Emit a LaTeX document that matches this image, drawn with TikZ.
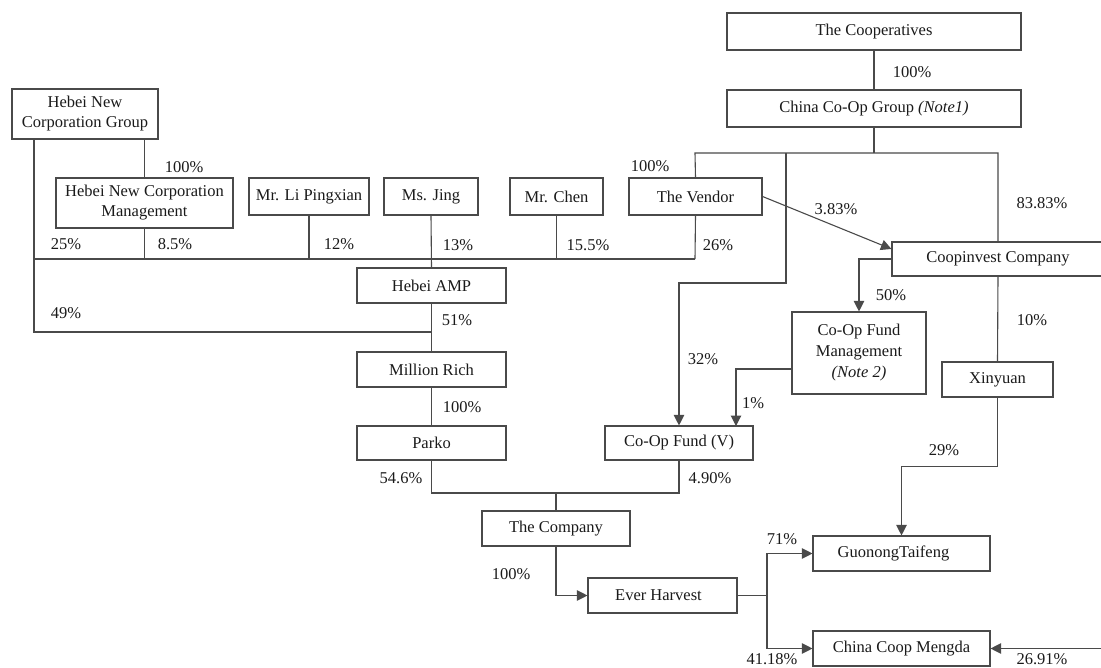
\documentclass[tikz,border=0pt]{standalone}
\usepackage{fontspec}
\setmainfont{Liberation Serif}
\usetikzlibrary{arrows.meta}
\definecolor{linec}{HTML}{4A4A4A}
\definecolor{txtc}{HTML}{1A1A1A}
\begin{document}
\begin{tikzpicture}[x=1pt,y=-1pt,
  box/.style={draw=linec, line width=1.1pt, inner sep=0pt, align=center, font=\fontsize{16.5}{20}\selectfont, text=txtc},
  conn/.style={draw=linec, line width=1.1pt},
  arr/.style={conn, -{Triangle[length=10.5pt,width=10.5pt]}},
  lbl/.style={font=\fontsize{16.5}{20}\selectfont, inner sep=0pt, text=txtc}]
\useasboundingbox (0,0) rectangle (1101,668);
\clip (0,0) rectangle (1101,668);
% boxes
\node[box, minimum width=294pt, minimum height=37pt] (coop) at (874,31.5) {The Cooperatives};
\node[box, minimum width=294pt, minimum height=37pt] (china) at (874,108.5) {China Co-Op Group \textit{(Note1)}};
\node[box, minimum width=146pt, minimum height=50pt] (hgroup) at (85,114) {Hebei New\\Corporation Group};
\node[box, minimum width=177pt, minimum height=50pt] (hmgmt) at (144.5,203) {Hebei New Corporation\\Management};
\node[box, minimum width=120pt, minimum height=37pt] (li) at (309,196.5) {Mr. Li Pingxian};
\node[box, minimum width=94pt, minimum height=37pt] (jing) at (431,196.5) {Ms. Jing};
\node[box, minimum width=93pt, minimum height=37pt] (chen) at (556.5,196.5) {Mr. Chen};
\node[box, minimum width=133pt, minimum height=37pt] (vendor) at (695.5,196.5) {The Vendor};
\node[box, minimum width=212pt, minimum height=34pt] (coopinv) at (998,259) {Coopinvest Company};
\node[box, minimum width=149pt, minimum height=35pt] (amp) at (431.5,285.5) {Hebei AMP};
\node[box, minimum width=149pt, minimum height=35pt] (mrich) at (431.5,369.5) {Million Rich};
\node[box, minimum width=149pt, minimum height=34pt] (parko) at (431.5,443) {Parko};
\node[box, minimum width=148pt, minimum height=34pt] (fund) at (679,443) {Co-Op Fund (V)};
\node[box, minimum width=134pt, minimum height=82pt, font=\fontsize{16.5}{21}\selectfont] (fmgmt) at (859,353) {Co-Op Fund\\Management\\\textit{(Note 2)}};
\node[box, minimum width=111pt, minimum height=35pt] (xin) at (997.5,379.5) {Xinyuan};
\node[box, minimum width=148pt, minimum height=35pt] (company) at (556,528.5) {The Company};
\node[box, minimum width=149pt, minimum height=35pt] (ever) at (662.5,595.5) {\hspace*{-8pt}Ever Harvest};
\node[box, minimum width=177pt, minimum height=35pt] (guon) at (901.5,553.5) {\hspace*{-16pt}GuonongTaifeng};
\node[box, minimum width=177pt, minimum height=35pt] (mengda) at (901.5,648.5) {China Coop Mengda};
% coordinates
\coordinate (cj) at (874,153);
\coordinate (cjL) at (695,153);
\coordinate (cjM) at (786,153);
\coordinate (cjR) at (998,153);
\coordinate (gl) at (34,139);
\coordinate (busL) at (34,259);
\coordinate (busR) at (695,259);
\coordinate (l49) at (431.5,332);
\coordinate (pf) at (556,493);
\coordinate (ej) at (767,595.5);
\coordinate (redge) at (1101,648.5);
\coordinate (f1) at (736,426);
% connectors
\draw[conn] (coop.south) -- (china.north);
\draw[conn] (china.south) -- (cj);
\draw[conn] (vendor.north) -- (cjL) -- (cjR) -- (coopinv.north);
\draw[arr] (cjM) -- ++(0,130) -| (fund.north);
\draw[conn] (hmgmt.north |- hgroup.south) -- (hmgmt.north);
\draw[conn] (gl) |- (l49);
\draw[conn] (busL) -- (busR);
\draw[conn] (gl) -- (busL);
\draw[conn] (hmgmt.south) -- (hmgmt.south |- busL);
\draw[conn] (li.south) -- (li.south |- busL);
\draw[conn] (jing.south) -- (amp.north);
\draw[conn] (chen.south) -- (chen.south |- busL);
\draw[conn] (vendor.south) -- (busR);
\draw[conn] (amp.south) -- (mrich.north);
\draw[conn] (mrich.south) -- (parko.north);
\draw[conn] (parko.south) |- (pf) -| (fund.south);
\draw[conn] (pf) -- (company.north);
\draw[arr] (company.south) |- (ever.west);
\draw[conn] (ever.east) -- (ej);
\draw[arr] (ej) |- (guon.west);
\draw[arr] (ej) |- (mengda.west);
\draw[arr] (redge) -- (mengda.east);
\draw[arr] (vendor.east) -- ([yshift=10pt]coopinv.west);
\draw[arr] (coopinv.west) -| (fmgmt.north);
\draw[arr] ([yshift=-16pt]fmgmt.west) -| (f1);
\draw[conn] (coopinv.south) -- (xin.north);
\draw[arr] (xin.south) -- ++(0,69) -| (guon.north);
% labels
\node[lbl] (p1) at (912,72) {100\%};
\node[lbl] (p2) at (650,166) {100\%};
\node[lbl] (p3) at (184,167) {100\%};
\node[lbl] (p4) at (1042,203) {83.83\%};
\node[lbl] (p5) at (836,209) {3.83\%};
\node[lbl] (p6) at (66,244) {25\%};
\node[lbl] (p7) at (175,244) {8.5\%};
\node[lbl] (p8) at (339,244) {12\%};
\node[lbl] (p9) at (458,245) {13\%};
\node[lbl] (p10) at (588,245) {15.5\%};
\node[lbl] (p11) at (718,245) {26\%};
\node[lbl] (p12) at (66,313) {49\%};
\node[lbl] (p13) at (457,320) {51\%};
\node[lbl] (p14) at (891,295) {50\%};
\node[lbl] (p15) at (1032,320) {10\%};
\node[lbl] (p16) at (703,359) {32\%};
\node[lbl] (p17) at (753,403) {1\%};
\node[lbl] (p18) at (462,407) {100\%};
\node[lbl] (p19) at (944,450) {29\%};
\node[lbl] (p20) at (401,478) {54.6\%};
\node[lbl] (p21) at (710,478) {4.90\%};
\node[lbl] (p22) at (511,574) {100\%};
\node[lbl] (p23) at (782,539) {71\%};
\node[lbl] (p24) at (772,659) {41.18\%};
\node[lbl] (p25) at (1042,659) {26.91\%};
\end{tikzpicture}
\end{document}
